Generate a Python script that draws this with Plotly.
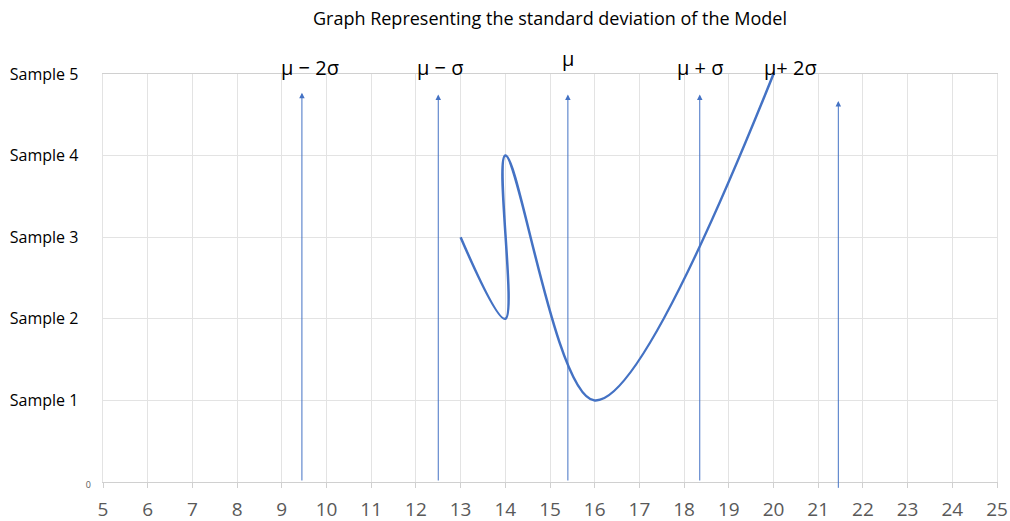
import plotly.graph_objects as go

# Data
curve_x = [13, 14, 14, 16, 20]
curve_y = [3, 2, 4, 1, 5]

arrow_x = [9.45, 12.5, 15.4, 18.35, 21.45]
arrow_base = [0, 0, 0, 0, -0.09]
arrow_top = [4.77, 4.75, 4.75, 4.75, 4.67]

label_text = ["μ − 2σ", "μ − σ", "μ", "μ + σ", "μ+ 2σ"]
label_x = [9.63, 12.54, 15.41, 18.36, 20.39]
label_y = [1.017, 1.017, 1.039, 1.017, 1.017]   # paper fraction above plot

y_tickvals = [0, 1, 2, 3, 4, 5]
y_ticktext = ["<span style='font-size:9px;fill:#595959'>0</span>"] + [
    f"Sample {i}" + "&nbsp;" * 3 for i in range(1, 6)]
x_tickvals = list(range(5, 26))

fig = go.Figure()
fig.add_trace(go.Scatter(
    x=curve_x, y=curve_y, mode="lines",
    line=dict(color="#4472C4", width=2.5, shape="spline", smoothing=1.0),
    showlegend=False, hoverinfo="skip"))

annotations = []
for xv, b, t in zip(arrow_x, arrow_base, arrow_top):
    annotations.append(dict(
        x=xv, y=t, ax=xv, ay=b, xref="x", yref="y", axref="x", ayref="y",
        showarrow=True, arrowhead=2, arrowsize=1.1, arrowwidth=1,
        arrowcolor="#4472C4", text=""))
for txt, xv, yv in zip(label_text, label_x, label_y):
    annotations.append(dict(
        x=xv, y=yv, xref="x", yref="paper", text=txt, showarrow=False,
        font=dict(size=20, color="#000000"), yanchor="middle", xanchor="center"))

fig.update_layout(
    width=1010, height=521,
    margin=dict(l=103, r=13, t=74, b=39, autoexpand=False),
    paper_bgcolor="white", plot_bgcolor="white",
    font=dict(family="Open Sans, sans-serif"),
    title=dict(text="Graph Representing the standard deviation of the Model",
               x=0.5, xref="paper", xanchor="center", y=0.965, yanchor="middle",
               font=dict(size=18, color="#000000")),
    annotations=annotations,
    xaxis=dict(range=[5, 25], tickvals=x_tickvals, showgrid=True, gridcolor="#e3e3e3",
               gridwidth=1, zeroline=False, showline=True, linecolor="#d0d0d0", linewidth=1,
               mirror=True, automargin=False, ticklabelstandoff=5,
               ticks="outside", ticklen=5, tickcolor="#d0d0d0",
               tickfont=dict(size=19, color="#595959")),
    yaxis=dict(range=[0, 5], tickvals=y_tickvals, ticktext=y_ticktext, showgrid=True,
               gridcolor="#e3e3e3", gridwidth=1, zeroline=False, showline=True,
               linecolor="#e3e3e3", mirror=True, ticklabelstandoff=8, automargin=False,
               ticks="", tickfont=dict(size=16, color="#000000")),
)

fig.write_html("out.html", config={"displayModeBar": False},
               post_script="document.body.style.margin='0';")
